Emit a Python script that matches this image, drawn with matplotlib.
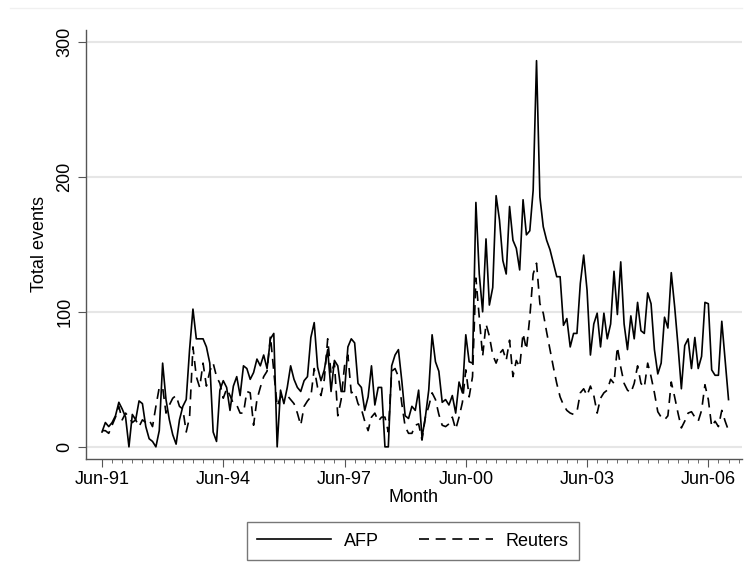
import matplotlib.pyplot as plt
import numpy as np
import pandas as pd
from matplotlib.lines import Line2D

# monthly counts, Jun-1991 .. Dec-2006
months = pd.period_range('1991-06', periods=187, freq='M')

afp = [11, 18, 15, 18, 23, 33, 28, 22, 0, 24,
       20, 34, 32, 15, 6, 4, 0, 12, 62, 35,
       20, 9, 2, 20, 30, 35, 72, 102, 80, 80,
       80, 74, 62, 11, 4, 42, 49,
       44, 27, 45, 52, 38, 60, 58, 50, 55, 65,
       60, 68, 58, 80, 84, 0, 42, 32, 44, 60,
       50, 44, 41, 49, 52, 81, 92,
       59, 49, 57, 72, 41, 64, 60, 41, 41, 74,
       80, 77, 47, 44, 27, 37, 60, 31, 44, 44,
       0, 0, 60, 68, 72, 49, 23, 21, 30, 27,
       42, 7,
       22, 42, 83, 63, 56, 33, 35, 31, 38, 25,
       48, 40, 83, 63, 62, 181, 128, 100, 154, 105,
       118, 186, 168, 138, 128, 178, 153, 147, 131, 183,
       157, 160, 190, 286, 185,
       163, 153, 146, 136, 126, 126, 90, 95, 74, 84,
       84, 121, 142, 116, 68, 91, 99, 74, 99, 80,
       91, 130, 98, 137, 91, 72,
       97, 80, 107, 86, 84, 114, 106, 72, 54, 62,
       96, 88, 129, 104, 75, 43, 75, 80, 58, 81,
       58, 67, 107, 106, 57, 53, 53, 93, 64, 35]

reuters = [12, 12, 10, 16, 22, 30, 20, 25, 22, 18,
           20, 15, 20, 18, 20, 15, 30, 44, 44, 25,
           31, 36, 38, 30, 28, 11, 22, 74, 52,
           44, 62, 45, 56, 62, 52, 47, 36, 43, 38,
           32, 31, 25, 25, 41, 40, 16, 35, 44, 52,
           56, 82, 56, 30, 37, 37, 38, 35, 32, 25,
           16, 30, 34, 37, 58,
           44, 38, 50, 80, 54, 62, 23, 35, 60, 68,
           40, 41, 32, 28, 19, 12, 22, 25, 19, 22,
           22, 11, 56, 58, 52, 32, 15, 10, 10, 16,
           17, 5,
           22, 30, 40, 35, 24, 16, 15, 17, 22, 13,
           22, 33, 57, 37, 52, 125, 96, 67, 91, 82,
           68, 62, 69, 72, 64, 79, 52, 64, 59, 84,
           72, 96, 128, 136, 106,
           99, 85, 72, 59, 47, 37, 31, 27, 25, 24,
           26, 40, 43, 38, 45, 38, 25, 36, 40, 42,
           50, 47, 74, 59, 47, 42,
           40, 47, 60, 47, 44, 62, 52, 40, 26, 22,
           20, 23, 48, 37, 25, 14, 19, 25, 26, 22,
           19, 27, 46, 35, 15, 19, 15, 27, 19, 12]

tick_labels = ['Jun-91', 'Jun-94', 'Jun-97', 'Jun-00', 'Jun-03', 'Jun-06']
y_ticks = [0, 100, 200, 300]

plt.rcParams['font.family'] = ['Liberation Sans', 'DejaVu Sans']

fig = plt.figure(figsize=(7.53, 5.82), dpi=100)
ax = fig.add_axes([86 / 753, 1 - 459 / 582, (742 - 86) / 753, (459 - 30) / 582])

x = np.arange(len(months))
ax.plot(x, afp, color='black', lw=1.2, label='AFP')
ax.plot(x, reuters, color='black', lw=1.2, ls=(0, (6, 4)), label='Reuters')

ax.set_xlim(-4.75, 190)
ax.set_ylim(-9, 308.7)

lab = list(months.strftime('%b-%y'))
ax.set_xticks([lab.index(t) for t in tick_labels])
ax.set_xticklabels(tick_labels)
ax.set_xticks(np.arange(0, 190, 3), minor=True)
ax.set_yticks(y_ticks)
ax.set_yticklabels([str(v) for v in y_ticks], rotation=90, va='center')

ax.yaxis.grid(True, color='#e6e6e6', lw=1.5)
ax.set_axisbelow(True)
for s in ['top', 'right']:
    ax.spines[s].set_visible(False)
for s in ['left', 'bottom']:
    ax.spines[s].set_color('#555555')
    ax.spines[s].set_linewidth(1)

ax.tick_params(axis='both', which='major', length=6, color='#555555',
               labelsize=13, pad=3)
ax.tick_params(axis='x', which='minor', length=3, color='#555555')

ax.set_xlabel('Month', fontsize=13, labelpad=0)
ax.set_ylabel('Total events', fontsize=13, labelpad=6)

leg = fig.legend(loc='center', bbox_to_anchor=(413 / 753, 1 - 541 / 582),
                 ncol=2, frameon=True, fancybox=False, edgecolor='#555555',
                 handlelength=4.1, handletextpad=0.7, columnspacing=2.2,
                 fontsize=13, borderpad=0.6)
leg.get_frame().set_linewidth(1)

fig.add_artist(Line2D([0.013, 0.985], [1 - 8 / 582] * 2,
                      color='#f0f0f0', lw=1))

plt.savefig('out.png', dpi=100)
